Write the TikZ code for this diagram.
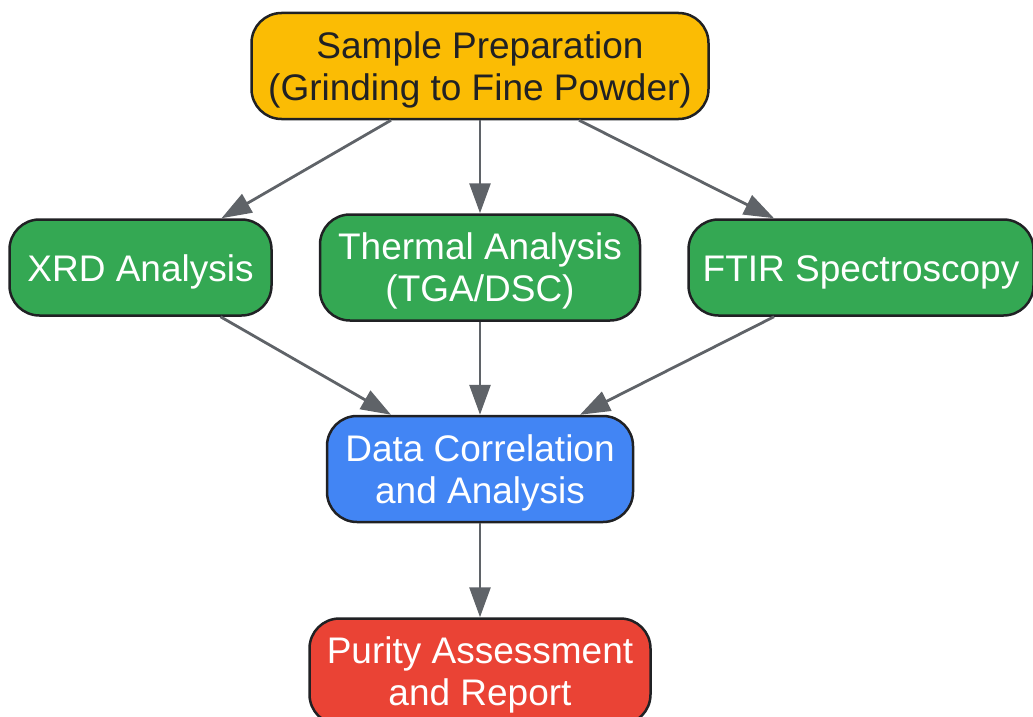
\documentclass[tikz,border=0pt]{standalone}
\usepackage{fontspec}
\setmainfont{Liberation Sans}
\usepackage{xcolor}
\usepackage{tikz}
\usetikzlibrary{arrows.meta,positioning}

\definecolor{prepyellow}{HTML}{FBBC04}
\definecolor{stepgreen}{HTML}{34A853}
\definecolor{datablue}{HTML}{4285F4}
\definecolor{reportred}{HTML}{EA4335}
\definecolor{flowgray}{HTML}{5F6368}
\definecolor{edgedark}{HTML}{202124}

\begin{document}
\begin{tikzpicture}
      [ x=1pt, y=-1pt,
        box/.style={draw=edgedark, line width=2.5pt, rounded corners=30pt,
                    align=center, text=white, inner xsep=6pt, inner ysep=6pt,
                    text height=27pt, text depth=0pt,
                    minimum height=96pt, font=\fontsize{37}{42}\selectfont},
        tall/.style={minimum height=106pt, text height=76pt, text depth=8pt},
        flow/.style={-{Triangle[length=30pt,width=21pt]}, draw=flowgray,
                     fill=flowgray, line width=2.8pt}
      ]
      \useasboundingbox (0,0) rectangle (1033,717);

      \node[box,tall,fill=prepyellow,text=edgedark,minimum width=457pt]
                          (prep)    at (480,66)                 {Sample Preparation\\(Grinding to Fine Powder)};
      \node[box,tall,fill=stepgreen,minimum width=320pt]
                          (thermal) [below=93pt of prep]        {Thermal Analysis\\(TGA/DSC)};
      \node[box,fill=stepgreen,minimum width=262pt]
                          (xrd)     [left=46pt of thermal]      {XRD Analysis};
      \node[box,fill=stepgreen,minimum width=345pt]
                          (ftir)    [right=46pt of thermal]     {FTIR Spectroscopy};
      \node[box,tall,fill=datablue,minimum width=306pt]
                          (data)    [below=93pt of thermal]     {Data Correlation\\and Analysis};
      \node[box,tall,fill=reportred,minimum width=341pt]
                          (report)  [below=94pt of data]        {Purity Assessment\\and Report};

      \path ([xshift=-89pt]prep.south) edge[flow] ([xshift=81pt]xrd.north)
            (prep)                     edge[flow] (thermal)
            ([xshift=99pt]prep.south)  edge[flow] ([xshift=-87pt]ftir.north)
            ([xshift=80pt]xrd.south)   edge[flow] ([xshift=-89pt]data.north)
            (thermal)                  edge[flow] (data)
            ([xshift=-87pt]ftir.south) edge[flow] ([xshift=100pt]data.north)
            (data)                     edge[flow] (report);
    \end{tikzpicture}
\end{document}
